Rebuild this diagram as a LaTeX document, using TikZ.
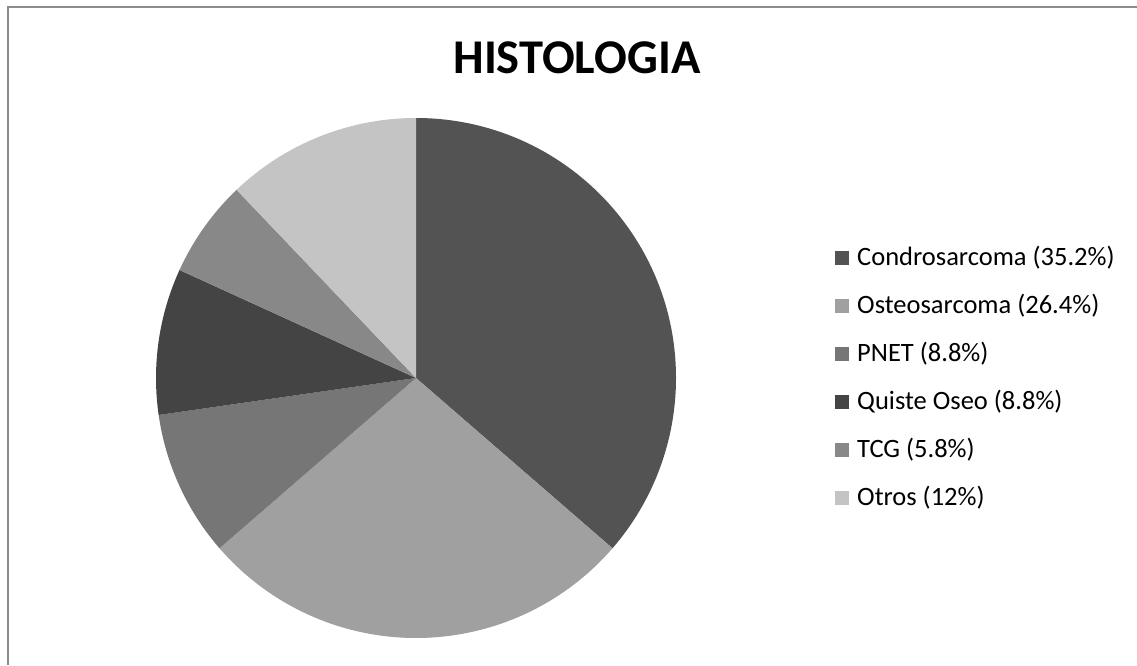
\documentclass[tikz,border=0pt]{standalone}
\usepackage{fontspec}
\setmainfont{Carlito}
\definecolor{cA}{HTML}{535353}
\definecolor{cB}{HTML}{A0A0A0}
\definecolor{cC}{HTML}{767676}
\definecolor{cD}{HTML}{444444}
\definecolor{cE}{HTML}{888888}
\definecolor{cF}{HTML}{C4C4C4}
\definecolor{frame}{HTML}{8C8C8C}
\begin{document}
\begin{tikzpicture}[x=1pt,y=1pt,
  legsq/.style={minimum size=14pt,inner sep=0pt,anchor=center},
  legtx/.style={anchor=west,inner sep=0pt,font=\fontsize{26.5}{31}\selectfont},
  slice/.style={draw=none}]
\useasboundingbox (0,0) rectangle (1137,665);
\fill[white] (0,0) rectangle (1137,665);
\draw[frame,line width=2pt] (8,0) -- (8,658) -- (1137,658);
\coordinate (c) at (416,287);
\def\R{260}
\fill[cA] (c) -- ++(90:\R) arc[start angle=90,end angle=-40.909,radius=\R] -- cycle;
\fill[cB] (c) -- ++(-40.909:\R) arc[start angle=-40.909,end angle=-139.091,radius=\R] -- cycle;
\fill[cC] (c) -- ++(-139.091:\R) arc[start angle=-139.091,end angle=-171.818,radius=\R] -- cycle;
\fill[cD] (c) -- ++(-171.818:\R) arc[start angle=-171.818,end angle=-204.545,radius=\R] -- cycle;
\fill[cE] (c) -- ++(-204.545:\R) arc[start angle=-204.545,end angle=-226.364,radius=\R] -- cycle;
\fill[cF] (c) -- ++(-226.364:\R) arc[start angle=-226.364,end angle=-270,radius=\R] -- cycle;
\node[font=\bfseries\fontsize{48.5}{58}\selectfont,inner sep=0pt] (title) at (577,607) {HISTOLOGIA};
\foreach \i/\col/\txt in {0/cA/{Condrosarcoma (35.2\%)},1/cB/{Osteosarcoma (26.4\%)},2/cC/{PNET (8.8\%)},3/cD/{Quiste Oseo (8.8\%)},4/cE/{TCG (5.8\%)},5/cF/{Otros (12\%)}}{
  \node[legsq,fill=\col] (sq\i) at (842,407-48*\i) {};
  \node[legtx] (tx\i) at (857,407-48*\i) {\txt};
}
\end{tikzpicture}
\end{document}
